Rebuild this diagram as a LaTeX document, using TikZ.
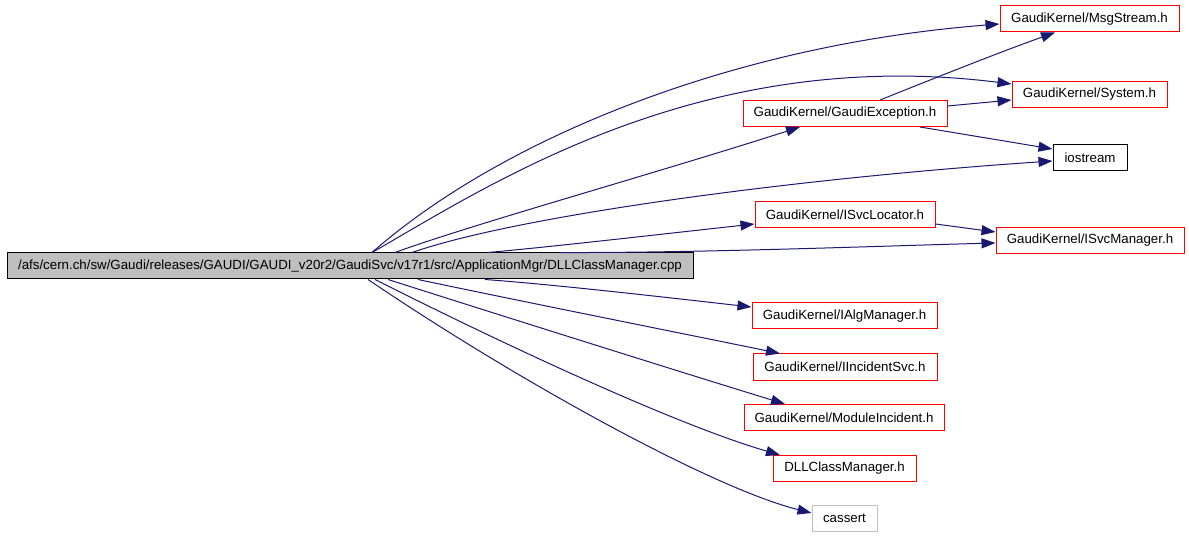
\documentclass[tikz,border=0pt]{standalone}
\usepackage{fontspec}
\setmainfont{Liberation Sans}
\usetikzlibrary{arrows.meta}
\definecolor{edgeblue}{RGB}{25,25,112}
\definecolor{boxgray}{RGB}{191,191,191}
\begin{document}
\begin{tikzpicture}[x=1pt,y=-1pt,
  box/.style={draw=red, line width=1pt, rectangle, inner sep=0pt, minimum height=26pt,
    font=\fontsize{13.3}{15}\selectfont, text=black},
  mainbox/.style={box, draw=black, fill=boxgray},
  sysbox/.style={box, draw=black},
  extbox/.style={box, draw=boxgray},
  dep/.style={draw=edgeblue, line width=1pt, -{Triangle[length=14pt,width=10pt]}}]
\path[use as bounding box] (0,0) rectangle (1189,537);

\node[mainbox, minimum width=686pt] (main) at (350,266) {/afs/cern.ch/sw/Gaudi/releases/GAUDI/GAUDI\_v20r2/GaudiSvc/v17r1/src/ApplicationMgr/DLLClassManager.cpp};
\node[box, minimum width=179pt] (msg) at (1089.5,19) {GaudiKernel/MsgStream.h};
\node[box, minimum width=155pt] (sys) at (1089.5,94.5) {GaudiKernel/System.h};
\node[box, minimum width=204pt] (gex) at (845,113.5) {GaudiKernel/GaudiException.h};
\node[sysbox, minimum width=74pt] (ios) at (1090,158) {iostream};
\node[box, minimum width=180pt] (loc) at (845,215) {GaudiKernel/ISvcLocator.h};
\node[box, minimum width=188pt] (mgr) at (1090,240.5) {GaudiKernel/ISvcManager.h};
\node[box, minimum width=185pt] (alg) at (844.5,316) {GaudiKernel/IAlgManager.h};
\node[box, minimum width=184pt] (inc) at (845,367) {GaudiKernel/IIncidentSvc.h};
\node[box, minimum width=200pt] (mod) at (844,417.5) {GaudiKernel/ModuleIncident.h};
\node[box, minimum width=143pt] (dll) at (844.5,468.5) {DLLClassManager.h};
\node[extbox, minimum width=65pt] (cas) at (844.5,518.5) {cassert};

% upper edges
\draw[dep] (main.north -| 372,0) .. controls (500,140) and (730,45) .. (msg.west |- 0,24);
\draw[dep] (main.north -| 372,0) .. controls (490,185) and (700,45) .. (sys.west |- 0,84);
\draw[dep] (main.north -| 395,0) .. controls (470,225) and (650,175) .. (gex.south -| 800,0);
\draw[dep] (main.north -| 412,0) .. controls (520,215) and (800,178) .. (ios.west |- 0,161);
\draw[dep] (main.north -| 488,0) .. controls (560,246) and (680,232) .. (loc.west |- 0,224);
\draw[dep] (main.north -| 560,0) .. controls (700,253) and (880,246) .. (mgr.west |- 0,243);
% lower edges
\draw[dep] (main.south -| 485,0) .. controls (560,285) and (680,299) .. (alg.west |- 0,307);
\draw[dep] (main.south -| 418,0) .. controls (500,297) and (700,337) .. (inc.north -| 780,0);
\draw[dep] (main.south -| 388,0) .. controls (490,312) and (690,375) .. (mod.north -| 785,0);
\draw[dep] (main.south -| 375,0) .. controls (515,350) and (680,426) .. (dll.north -| 780,0);
\draw[dep] (main.south -| 368,0) .. controls (518,381) and (712,488) .. (cas.west |- 0,513);
% secondary edges
\draw[dep] (gex.north -| 880,0) .. controls (930,80) and (1000,52) .. (msg.south -| 1055,0);
\draw[dep] (gex.east |- 0,106) -- (sys.west |- 0,100);
\draw[dep] (gex.south -| 920,0) -- (ios.west |- 0,149);
\draw[dep] (loc.east |- 0,224) -- (mgr.west |- 0,232);
\end{tikzpicture}
\end{document}
